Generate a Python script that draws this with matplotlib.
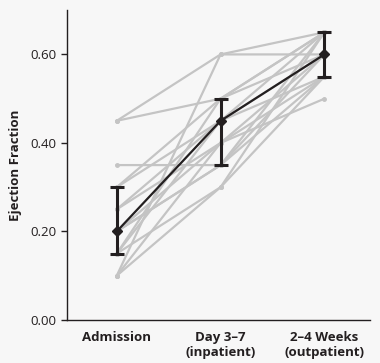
import numpy as np
import matplotlib
matplotlib.use("Agg")
import matplotlib.pyplot as plt

plt.rcParams['font.family'] = ['Open Sans', 'DejaVu Sans']

# time points
timepoints = ["Admission", "Day 3\u20137\n(inpatient)", "2\u20134 Weeks\n(outpatient)"]

# individual patients (admission, day 3-7, 2-4 weeks)
patients = [
    [0.45, 0.60, 0.65],
    [0.45, 0.50, 0.60],
    [0.35, 0.35, 0.60],
    [0.30, 0.50, 0.65],
    [0.30, 0.45, 0.55],
    [0.25, 0.40, 0.60],
    [0.25, 0.45, 0.65],
    [0.20, 0.40, 0.50],
    [0.20, 0.35, 0.65],
    [0.15, 0.45, 0.60],
    [0.15, 0.30, 0.55],
    [0.10, 0.60, 0.60],
    [0.10, 0.30, 0.65],
    [0.10, 0.40, 0.55],
    [0.15, 0.50, 0.65],
    [0.20, 0.35, 0.55],
]

# median with range
median = [0.20, 0.45, 0.60]
lower = [0.15, 0.35, 0.55]
upper = [0.30, 0.50, 0.65]

bg = "#f7f7f7"
fig = plt.figure(figsize=(3.8, 3.63), dpi=100, facecolor=bg)
ax = fig.add_axes([0.176, 0.1185, 0.798, 0.8535], facecolor=bg)

x = np.arange(len(timepoints))
for p in patients:
    ax.plot(x, p, color="#c4c4c4", lw=1.6, marker="o", ms=2.5, zorder=1)

med = np.array(median)
yerr = [med - np.array(lower), np.array(upper) - med]
ax.errorbar(x, med, yerr=yerr, color="#231f20", lw=1.6, elinewidth=2.2,
            capsize=5, capthick=2.2, marker="D", ms=5, zorder=3)

ax.set_xlim(-0.48, 2.44)
ax.set_ylim(0, 0.70)
ax.set_yticks([0, 0.2, 0.4, 0.6])
ax.set_yticklabels(["0.00", "0.20", "0.40", "0.60"])
ax.set_xticks(x)
ax.set_xticklabels(timepoints, fontweight="bold")
ax.tick_params(axis="x", length=0, pad=8, labelsize=9.5, colors="#231f20")
ax.tick_params(axis="y", length=4, width=1, labelsize=9.5, colors="#231f20")
ax.set_ylabel("Ejection Fraction", fontweight="bold", fontsize=9.5, color="#231f20", labelpad=6)

for s in ["top", "right"]:
    ax.spines[s].set_visible(False)
for s in ["left", "bottom"]:
    ax.spines[s].set_color("#231f20")
    ax.spines[s].set_linewidth(1)

fig.savefig("out.png", dpi=100, facecolor=bg)
